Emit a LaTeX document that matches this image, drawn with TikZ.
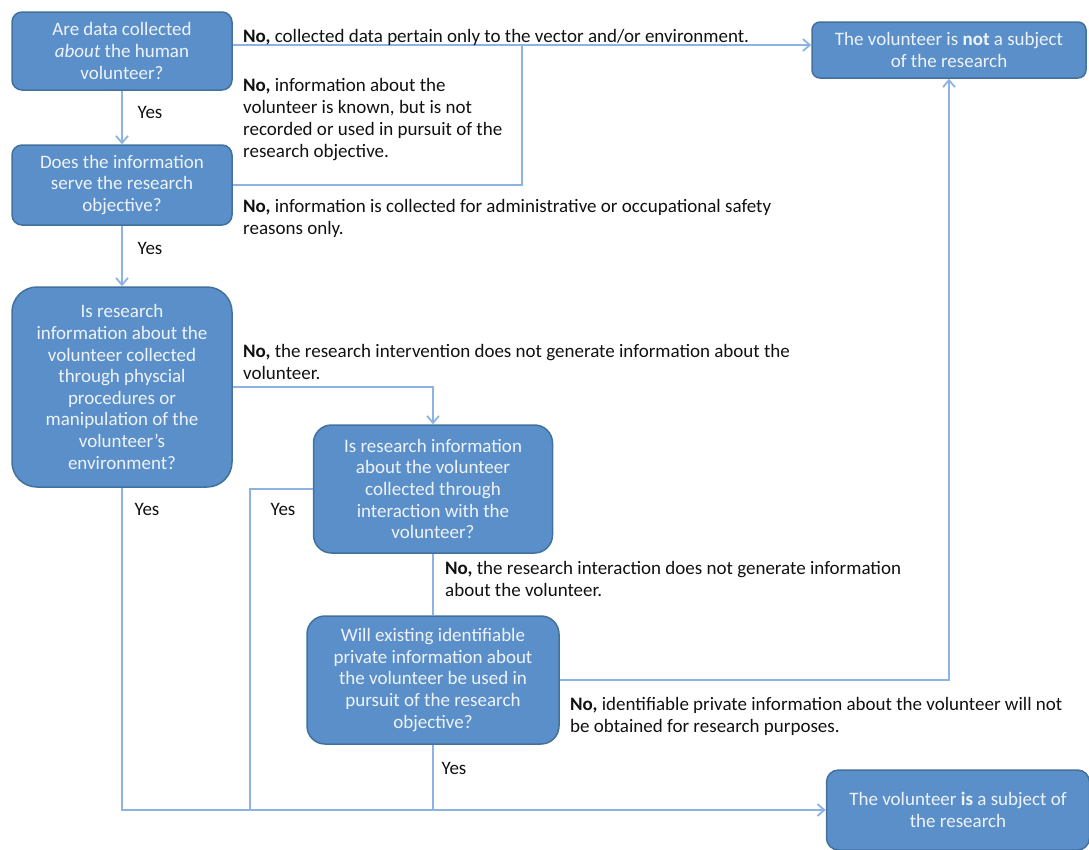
\documentclass[tikz,border=0pt]{standalone}
\usepackage{fontspec}
\setmainfont{Carlito}
\usetikzlibrary{arrows.meta,positioning}
\definecolor{boxfill}{HTML}{5B8FC9}
\definecolor{boxdraw}{HTML}{41719C}
\definecolor{boxtext}{HTML}{EEF3FA}
\definecolor{linec}{HTML}{8DB3E2}
\definecolor{labtext}{HTML}{111111}
\tikzset{
  qbox/.style={draw=boxdraw, line width=1.5pt, fill=boxfill, text=boxtext, align=center,
    font=\fontsize{19}{21.6}\selectfont, inner sep=2pt},
  conn/.style={draw=linec, line width=2pt},
  arr/.style={-{Straight Barb[length=7pt,width=12pt,line width=1.8pt]}},
  lab/.style={anchor=north west, inner sep=0pt, align=left, text=labtext,
    font=\fontsize{19}{22.2}\selectfont},
  yes/.style={inner sep=0pt, text=labtext, font=\fontsize{19}{22}\selectfont},
}
\begin{document}
\begin{tikzpicture}[x=1pt,y=-1pt]
\useasboundingbox (0,0) rectangle (1089,849);
% boxes
\node[qbox, rounded corners=10pt, minimum width=220pt, minimum height=78pt] (A) at (122,51)
  {Are data collected\\\emph{about} the human\\volunteer?};
\node[qbox, rounded corners=10pt, minimum width=220pt, minimum height=80pt] (B) at (122,185)
  {Does the information\\serve the research\\objective?};
\node[qbox, rounded corners=25pt, minimum width=220pt, minimum height=200pt] (C) at (122,387)
  {Is research\\information about the\\volunteer collected\\through physcial\\procedures or\\manipulation of the\\volunteer's\\environment?};
\node[qbox, rounded corners=18pt, minimum width=239pt, minimum height=128pt] (D) at (433,489)
  {Is research information\\about the volunteer\\collected through\\interaction with the\\volunteer?};
\node[qbox, rounded corners=18pt, minimum width=252pt, minimum height=128pt] (E) at (433,680)
  {Will existing identifiable\\private information about\\the volunteer be used in\\pursuit of the research\\objective?};
\node[qbox, rounded corners=8pt, minimum width=274pt, minimum height=56pt] (NOT) at (949,50)
  {The volunteer is \textbf{not} a subject\\of the research};
\node[qbox, rounded corners=12pt, minimum width=263pt, minimum height=80pt] (IS) at (958,810)
  {The volunteer \textbf{is} a subject of\\the research};
% junction coordinates
\coordinate (j1) at (522,45);
\coordinate (j2) at (250,810);
\coordinate (j3) at (433,810);
% connectors
\draw[conn,arr] (A.east |- j1) -- (NOT.west |- j1);
\draw[conn] (B.east) -| (j1);
\draw[conn,arr] (A.south) -- (B.north);
\draw[conn,arr] (B.south) -- (C.north);
\draw[conn,arr] (C.east) -| (D.north);
\draw[conn] (D.west) -| (j2);
\draw[conn,arr] (C.south) |- (IS.west);
\draw[conn] (D.south) -- (E.north);
\draw[conn,arr] (E.east) -| (NOT.south);
\draw[conn] (E.south) -- (j3);
% labels
\node[lab] (l1) at (243,29) {\textbf{No,} collected data pertain only to the vector and/or environment.};
\node[lab] (l2) at (243,78) {\textbf{No,} information about the\\volunteer is known, but is not\\recorded or used in pursuit of the\\research objective.};
\node[lab] (l3) at (243,199) {\textbf{No,} information is collected for administrative or occupational safety\\reasons only.};
\node[lab] (l4) at (243,344) {\textbf{No,} the research intervention does not generate information about the\\volunteer.};
\node[lab] (l5) at (445,561) {\textbf{No,} the research interaction does not generate information\\about the volunteer.};
\node[lab] (l6) at (570,697) {\textbf{No,} identifiable private information about the volunteer will not\\be obtained for research purposes.};
\node[yes] (y1) at (150,112) {Yes};
\node[yes] (y2) at (150,248) {Yes};
\node[yes] (y3) at (147,509) {Yes};
\node[yes] (y4) at (283,509) {Yes};
\node[yes] (y5) at (454,768) {Yes};
\end{tikzpicture}
\end{document}
